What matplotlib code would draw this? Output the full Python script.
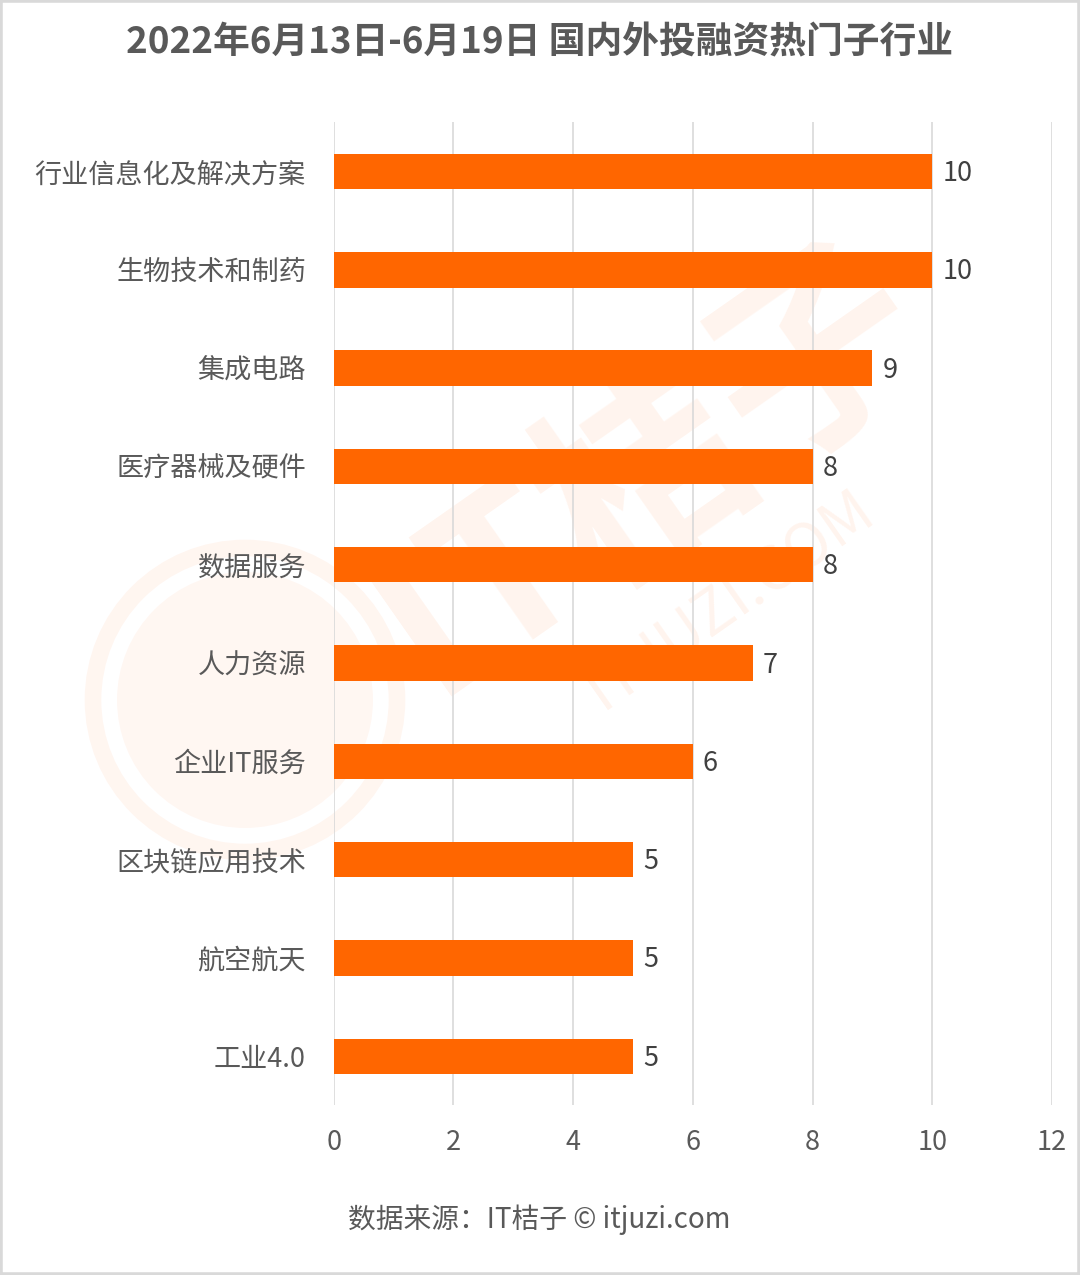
import numpy as np
import matplotlib.pyplot as plt
from matplotlib.patches import Rectangle, Circle

plt.rcParams['font.family'] = ['Noto Sans CJK SC', 'DejaVu Sans']

# data
categories = ['行业信息化及解决方案', '生物技术和制药', '集成电路', '医疗器械及硬件',
              '数据服务', '人力资源', '企业IT服务', '区块链应用技术', '航空航天', '工业4.0']
values = [10, 10, 9, 8, 8, 7, 6, 5, 5, 5]
xticks = [0, 2, 4, 6, 8, 10, 12]

title = '2022年6月13日-6月19日 国内外投融资热门子行业'
source = '数据来源：IT桔子 © itjuzi.com'

bar_color = '#FF6600'
text_color = '#595959'

fig = plt.figure(figsize=(10.8, 12.75), dpi=100)
ax = fig.add_axes([0.309, 0.133, 0.665, 0.771])

# faint watermark
wm = fig.add_axes([0, 0, 1, 1], zorder=-1)
wm.set_xlim(0, 1080)
wm.set_ylim(1275, 0)
wm.axis('off')
wm.add_patch(Circle((245, 700), 152, fill=False, lw=12, ec=bar_color, alpha=0.06))
wm.add_patch(Circle((245, 700), 128, color=bar_color, alpha=0.05, lw=0))
wm.text(650, 470, 'IT桔子', fontsize=150, color=bar_color, alpha=0.07,
        rotation=35, ha='center', va='center', fontweight='bold')
wm.text(730, 600, 'ITJUZI.COM', fontsize=44, color=bar_color, alpha=0.07,
        rotation=35, ha='center', va='center')
ax.patch.set_alpha(0)

y = np.arange(len(categories))
ax.barh(y, values, height=0.36, color=bar_color, zorder=3)
for yi, v in zip(y, values):
    ax.text(v + 0.17, yi + 0.02, str(v), va='center', ha='left', fontsize=19.5, color='#404040')

ax.set_xlim(0, 12)
ax.set_ylim(len(categories) - 0.5, -0.5)
ax.set_yticks(y)
ax.set_yticklabels(categories, fontsize=19.5, color=text_color)
ax.set_xticks(xticks)
ax.set_xticklabels([str(t) for t in xticks], fontsize=19.5, color=text_color)
ax.tick_params(axis='both', length=0)
ax.tick_params(axis='y', pad=20)
ax.tick_params(axis='x', pad=17)
ax.grid(axis='x', color='#d9d9d9', lw=1.2, zorder=0)
for s in ax.spines.values():
    s.set_visible(False)

fig.text(0.5, 0.966, title, ha='center', va='center', fontsize=26.5,
         fontweight='bold', color=text_color)
fig.text(0.322, 0.043, source, ha='left', va='center', fontsize=20, color=text_color)

# light frame around the picture
fig.patches.append(Rectangle((0, 0), 1, 1, transform=fig.transFigure, fill=False,
                             ec='#d9d9d9', lw=4))

plt.savefig('out.png', dpi=100)
